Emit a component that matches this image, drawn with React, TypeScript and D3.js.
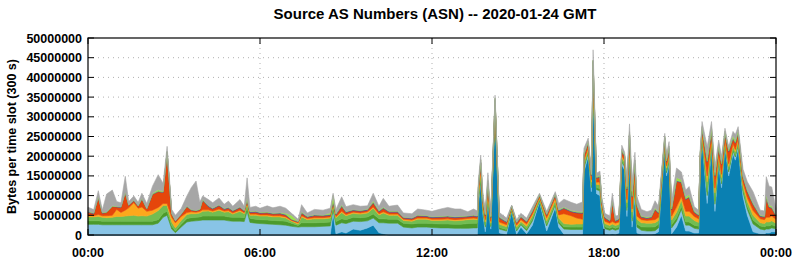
import React from 'react';
import * as d3 from 'd3';

// slot time in hours since 00:00 GMT
const hours = [
  0, 0.2, 0.36, 0.5, 0.65, 0.85, 1.0, 1.15, 1.3, 1.42, 1.6, 1.75, 1.88, 2.05, 2.25, 2.45, 2.62, 2.76, 2.92, 3.05,
  3.25, 3.45, 3.6, 3.77, 3.9, 4.0, 4.2, 4.35, 4.57, 4.75, 4.9, 5.05, 5.3, 5.45, 5.55, 5.65, 5.85, 6.0, 6.25, 6.45,
  6.7, 6.9, 7.1, 7.33, 7.45, 7.65, 7.9, 8.2, 8.45, 8.55, 8.65, 8.85, 9.0, 9.25, 9.5, 9.75, 9.95, 10.15, 10.3, 10.5,
  10.8, 11.0, 11.3, 11.5, 11.8, 12.0, 12.3, 12.55, 12.8, 13.0, 13.25, 13.45, 13.58, 13.62, 13.7, 13.78, 13.86, 13.95, 14.05, 14.2,
  14.35, 14.6, 14.78, 14.95, 15.1, 15.3, 15.5, 15.75, 16.0, 16.3, 16.42, 16.6, 16.85, 17.05, 17.25, 17.3, 17.45, 17.56, 17.62, 17.74,
  17.86, 17.92, 18.03, 18.2, 18.29, 18.4, 18.52, 18.62, 18.72, 18.8, 18.89, 18.98, 19.08, 19.15, 19.3, 19.5, 19.65, 19.78, 19.9, 20.12,
  20.18, 20.27, 20.36, 20.53, 20.7, 20.85, 20.97, 21.15, 21.3, 21.36, 21.42, 21.6, 21.75, 21.87, 22.0, 22.1, 22.22, 22.35, 22.5, 22.58,
  22.68, 22.85, 23.0, 23.2, 23.45, 23.6, 23.66, 23.76, 23.85, 24.0,
];

// bytes per slot, in millions, one list per AS (bottom of the stack first)
const asTeal = [
  0, 0, 0, 0, 0, 0, 0, 0, 0, 0, 0, 0, 0, 0, 0, 0, 0, 0, 0, 0,
  0, 0, 0, 0, 0, 0, 0, 0, 0, 0, 0, 0, 0, 0, 0, 0, 0, 0, 0, 0,
  0, 0, 0, 0, 0, 0, 0, 0, 0, 5.6, 0.3, 0.8, 0.5, 1.5, 1.2, 1.8, 2.5, 0.6, 0.3, 0,
  0, 0, 0, 0, 0, 0, 0, 0, 0, 0, 0, 0, 0, 8, 13.5, 5, 0.8, 8.6, 1.5, 32,
  0.5, 0.2, 6, 0.2, 2, 0.3, 2.5, 8.4, 1, 7, 2, 0.2, 0.2, 0.2, 0.2, 16, 20, 11, 37.6, 10.5,
  10, 4.5, 0.3, 0.2, 0.3, 0.2, 0.5, 17.8, 16.5, 4.7, 20, 2, 10, 0.5, 0.2, 0.2, 0.2, 0.3, 0.8, 22,
  15, 18, 0.3, 2, 5, 1, 1, 0.5, 0.5, 18, 24.1, 8, 22.4, 6, 18, 12, 22.4, 15, 20.7, 19,
  22, 9.7, 5, 0.8, 0.3, 0.3, 0.5, 0.5, 0.8, 0.8,
];
const asLightBlue = [
  2.7, 2.7, 2.7, 2.6, 2.6, 2.6, 2.6, 2.6, 2.6, 2.6, 2.6, 2.6, 2.6, 2.6, 2.6, 3, 4.5, 5, 1.5, 0.6,
  2, 3.3, 3.5, 3.6, 3.7, 3.8, 3.8, 3.8, 3.8, 3.8, 3.6, 3.5, 3.5, 3.4, 6, 3.2, 3, 2.9, 2.8, 2.7,
  2.6, 2.5, 2.2, 2, 2.1, 2.1, 2.1, 2.2, 2.3, 0.8, 2.2, 2.3, 2.4, 2, 2.2, 1.8, 1.8, 2.5, 2.8, 3,
  3, 2, 1.8, 2, 2, 1.9, 1.8, 1.8, 1.7, 1.7, 1.7, 1.8, 1.8, 1, 0.6, 0.8, 1.2, 0.5, 0.6, 0.3,
  1, 0.8, 0.3, 0.8, 0.6, 0.8, 1, 0.3, 1.3, 0.6, 1, 1.3, 1.2, 1.2, 1.2, 1, 0.8, 1, 1, 1,
  1.2, 1.2, 1.3, 1, 1.2, 1, 1, 0.8, 0.8, 1.5, 1, 1.5, 2, 1.5, 1, 0.8, 0.8, 0.8, 1, 0.5,
  0.8, 0.8, 1.5, 1.5, 1.5, 1.5, 1.5, 1.2, 1, 0.6, 0.5, 2, 0.6, 1.8, 0.8, 1, 0.6, 1, 0.7, 0.8,
  0.8, 1.2, 1.5, 2, 1.2, 1, 1, 1, 1, 0.8,
];
const asDarkGreen = [
  0.9, 0.9, 0.9, 0.9, 0.9, 0.9, 0.9, 0.9, 0.9, 0.9, 0.9, 0.9, 0.9, 0.9, 0.9, 0.9, 1, 1, 0.8, 0.4,
  0.7, 0.9, 0.9, 0.9, 0.9, 1, 1, 1, 1, 1, 1, 1, 1, 1, 1, 1, 1, 1, 1, 1,
  1, 1, 0.8, 0.4, 1, 1, 1, 1, 1, 0.6, 0.9, 1, 1, 1, 1, 1, 1, 1, 1, 1,
  1, 1, 1, 1, 1, 1, 1, 1, 1, 1, 1.2, 1.2, 1.2, 0.5, 0.3, 0.3, 0.5, 0.3, 0.3, 0.2,
  0.4, 0.4, 0.2, 0.4, 0.3, 0.4, 0.5, 0.2, 0.5, 0.4, 0.5, 0.6, 0.6, 0.6, 0.6, 0.5, 0.4, 0.6, 0.6, 0.5,
  0.6, 0.6, 0.5, 0.5, 0.5, 0.5, 0.5, 0.3, 0.3, 0.8, 0.5, 0.8, 1, 0.8, 0.9, 1, 1, 1, 0.9, 0.3,
  0.4, 0.4, 0.8, 0.8, 0.8, 0.8, 0.8, 0.8, 0.7, 0.4, 0.3, 1, 0.4, 0.9, 0.4, 0.6, 0.4, 0.6, 0.4, 0.4,
  0.4, 0.6, 0.8, 1, 0.8, 0.8, 0.8, 0.8, 0.8, 0.6,
];
const asLightGreen = [
  1, 1, 1.1, 1, 0.9, 1, 1.2, 1.2, 1.3, 1.4, 1.5, 1.3, 1.4, 1.3, 1.8, 2.3, 2, 1.5, 1, 0.8,
  1, 1, 1, 0.9, 1, 1.2, 1.3, 1, 1.5, 1, 1.3, 0.8, 1.5, 1, 1, 0.8, 1, 0.9, 1, 0.9,
  1, 0.8, 0.5, 0.4, 1.5, 0.8, 1, 0.9, 1, 0.8, 1, 1.6, 1, 1, 0.9, 1, 1.5, 1, 1.5, 1,
  1, 0.7, 0.7, 1, 1, 0.8, 0.9, 1, 0.9, 1, 1, 1, 0.9, 0.8, 1.5, 0.8, 0.8, 1.2, 0.6, 0.5,
  0.8, 0.7, 0.3, 0.6, 0.5, 0.7, 0.8, 0.4, 0.8, 0.8, 0.8, 0.8, 0.7, 0.8, 0.8, 0.8, 0.6, 0.8, 1, 0.8,
  1, 0.8, 0.8, 0.7, 0.8, 0.7, 0.7, 0.8, 0.8, 1.2, 1, 1.5, 1.5, 1.2, 1, 1, 1, 1, 1, 0.6,
  0.8, 0.8, 1.2, 1.5, 1.5, 1.5, 1.5, 1.2, 1, 0.6, 0.6, 2.5, 0.8, 2, 0.8, 1, 0.7, 0.8, 0.8, 0.9,
  0.8, 1, 1.2, 1.2, 0.8, 0.8, 1, 1, 1, 0.8,
];
const asYellowOrange = [
  0.4, 0.3, 0.5, 0.4, 0.5, 0.5, 1.8, 1, 1.5, 2, 3.2, 2, 2.2, 1.2, 1, 0.8, 0.5, 0.5, 1.2, 1.3,
  1, 0.5, 0.5, 0.4, 0.4, 0.4, 0.3, 0.3, 0.3, 0.3, 0.3, 0.3, 0.3, 0.3, 0.3, 0.3, 0.3, 0.3, 0.3, 0.3,
  0.3, 0.3, 0.2, 0.3, 0.3, 0.3, 0.3, 0.3, 0.3, 0.2, 0.3, 0.3, 0.3, 0.3, 0.3, 0.3, 0.3, 0.3, 0.3, 0.3,
  0.3, 0.3, 0.3, 0.3, 0.3, 0.3, 0.3, 0.3, 0.3, 0.3, 0.3, 0.3, 0.3, 0.8, 0.8, 0.5, 0.6, 0.6, 0.5, 0.3,
  0.6, 0.5, 0.2, 0.5, 0.5, 0.6, 0.5, 0.3, 0.8, 0.7, 0.8, 2.5, 2.2, 1.5, 1.2, 0.6, 0.5, 0.6, 0.6, 0.6,
  0.7, 0.6, 0.6, 0.6, 0.6, 0.6, 0.6, 0.5, 0.5, 0.8, 0.5, 0.8, 1, 0.8, 0.8, 0.7, 0.8, 0.8, 0.8, 0.4,
  0.6, 0.6, 1, 1.3, 1, 1.2, 1.2, 1, 0.9, 0.5, 0.5, 1.5, 0.6, 1.2, 0.6, 0.8, 0.5, 0.7, 0.6, 0.6,
  0.6, 0.8, 1, 1.2, 1, 1, 1.2, 1.2, 1.2, 1,
];
const asRed = [
  0.8, 0.5, 4.3, 0.6, 0.8, 2.2, 0.6, 1.3, 4.4, 0.6, 0.5, 0.5, 2, 0.6, 4, 4, 2.8, 13, 0.8, 0.4,
  0.5, 1.5, 0.4, 0.3, 0.4, 2.4, 0.8, 0.5, 0.8, 0.4, 0.6, 0.4, 0.6, 0.3, 0.5, 0.4, 0.5, 0.4, 0.5, 0.4,
  0.5, 0.4, 0.2, 0.2, 0.6, 0.3, 0.5, 0.4, 0.4, 0.3, 0.4, 1.2, 0.5, 0.4, 0.4, 0.4, 1, 0.5, 0.8, 0.5,
  0.5, 0.3, 0.3, 0.5, 0.4, 0.4, 0.5, 0.5, 0.5, 0.5, 0.4, 0.5, 0.4, 1, 1.5, 1, 1, 1.8, 0.8, 1,
  1, 0.6, 0.2, 0.5, 0.6, 0.5, 0.6, 0.4, 0.6, 0.6, 1, 1.3, 1, 1.3, 1.5, 1.2, 1, 1, 3.2, 1,
  1.2, 0.8, 0.8, 0.5, 5, 0.5, 0.6, 1, 1, 2.5, 2.5, 3, 2.5, 2.5, 0.6, 0.5, 0.6, 2.5, 1, 0.7,
  1, 1.2, 1.6, 6.5, 3.5, 3, 3.5, 1, 0.8, 0.6, 0.8, 3.5, 1.5, 3, 1.5, 2.5, 1, 3, 1.2, 1.6,
  1.2, 1.2, 1.5, 1.5, 0.6, 0.6, 5, 2.5, 2, 0.8,
];
const asPurple = [
  0.15, 0.15, 0.15, 0.15, 0.1, 0.1, 0.1, 0.1, 0.1, 0.1, 0.1, 0.1, 0.1, 0.1, 0.1, 0.1, 0.1, 0.1, 0.1, 0.1,
  0.1, 0.1, 0.1, 0.1, 0.1, 0.1, 0.2, 0.2, 0.2, 0.2, 0.2, 0.2, 0.2, 0.2, 0.2, 0.2, 0.2, 0.2, 0.2, 0.2,
  0.2, 0.2, 0.1, 0.1, 0.2, 0.2, 0.2, 0.2, 0.2, 0.2, 0.2, 0.2, 0.2, 0.2, 0.2, 0.2, 0.2, 0.2, 0.2, 0.2,
  0.2, 0.2, 0.2, 0.2, 0.2, 0.2, 0.2, 0.2, 0.2, 0.2, 0.2, 0.2, 0.2, 0.2, 0.2, 0.2, 0.2, 0.2, 0.2, 0.1,
  0.2, 0.2, 0.1, 0.2, 0.2, 0.2, 0.2, 0.1, 0.2, 0.2, 0.2, 0.2, 0.2, 0.2, 0.2, 0.2, 0.2, 0.2, 0.2, 0.2,
  0.2, 0.2, 0.2, 0.2, 0.2, 0.2, 0.2, 0.2, 0.2, 0.2, 0.2, 0.2, 0.2, 0.2, 0.2, 0.2, 0.2, 0.2, 0.2, 0.2,
  0.2, 0.2, 0.2, 0.2, 0.2, 0.2, 0.2, 0.2, 0.2, 0.2, 0.2, 0.2, 0.2, 0.2, 0.2, 0.2, 0.2, 0.2, 0.2, 0.2,
  0.2, 0.2, 0.2, 0.2, 0.2, 0.2, 0.2, 0.2, 0.2, 0.2,
];
const asLime = [
  0.1, 0.1, 0.1, 0.1, 0.1, 0.1, 0.1, 0.1, 0.1, 0.1, 0.1, 0.1, 0.1, 0.1, 0.2, 0.4, 0.2, 0.1, 0.1, 0.1,
  0.1, 0.1, 0.1, 0.1, 0.1, 0.2, 0.1, 0.1, 0.1, 0.1, 0.1, 0.1, 0.1, 0.1, 0.3, 0.1, 0.1, 0.1, 0.1, 0.1,
  0.1, 0.3, 1, 0.1, 0.2, 0.1, 0.1, 0.1, 0.4, 1.5, 0.2, 0.3, 0.1, 0.1, 0.1, 0.1, 0.4, 0.2, 0.2, 0.1,
  0.1, 0.1, 0.1, 0.1, 0.1, 0.1, 0.1, 0.1, 0.1, 0.1, 0.1, 0.1, 0.1, 0.4, 0.7, 0.3, 0.3, 0.6, 0.3, 0.4,
  0.2, 0.1, 0.1, 0.1, 0.1, 0.1, 0.2, 0.2, 0.2, 0.2, 0.2, 0.2, 0.2, 0.2, 0.2, 0.4, 0.3, 0.3, 0.2, 0.2,
  0.3, 0.2, 0.1, 0.1, 0.2, 0.1, 0.1, 0.3, 0.3, 0.6, 0.5, 1.3, 0.8, 0.5, 0.2, 0.2, 0.2, 0.3, 0.3, 0.4,
  0.5, 0.5, 0.6, 0.8, 0.5, 0.5, 0.6, 0.3, 0.2, 0.3, 0.5, 1, 0.8, 0.8, 0.6, 0.6, 0.5, 0.5, 0.6, 0.6,
  0.6, 0.3, 0.3, 0.3, 0.2, 0.2, 0.5, 0.4, 0.4, 0.2,
];
const asGray = [
  1, 0.8, 1.5, 0.6, 4.5, 4, 1.2, 1, 4, 0.8, 1, 0.8, 1.3, 1.2, 1.8, 3.8, 2, 1.3, 1, 1.3,
  1.3, 2.5, 5.5, 7.4, 1.8, 0.8, 1.5, 1.3, 1.7, 1, 1.5, 1, 1.8, 1, 5.2, 1, 1.2, 1, 1.5, 1.3,
  1.6, 1.3, 0.5, 0.5, 1.8, 0.8, 1.3, 1.2, 1.2, 0.6, 1, 2, 1.2, 1.2, 1, 0.8, 1.9, 1, 2.2, 1.2,
  1.5, 1, 1, 1.5, 1.3, 1.3, 1.8, 2.1, 1.9, 1.8, 1, 1.5, 1.2, 1.3, 1.2, 1, 1.5, 2, 1, 0.7,
  1, 0.8, 0.2, 0.6, 0.7, 0.7, 0.8, 0.3, 0.6, 0.5, 1.5, 2, 2, 1.8, 2.5, 1.3, 0.8, 1, 2.6, 0.9,
  1, 0.8, 0.9, 1, 1.8, 1, 0.8, 1.1, 0.6, 2.7, 2, 2.8, 2, 1.7, 1.6, 1.3, 1.5, 1.8, 1.3, 0.7,
  1.2, 1.2, 1.7, 2.4, 2, 1.7, 2, 1, 1, 1, 1.3, 2.7, 1.5, 1.5, 1.2, 1.3, 0.8, 0.6, 1.1, 1.4,
  0.9, 1.7, 2, 2.8, 1.2, 1.2, 4.6, 4.8, 4.8, 1.5,
];

const layers = [
  { key: 'teal', values: asTeal, color: '#0a80b2' },
  { key: 'lightBlue', values: asLightBlue, color: '#88c4e6' },
  { key: 'darkGreen', values: asDarkGreen, color: '#4c9a2c' },
  { key: 'lightGreen', values: asLightGreen, color: '#72bd52' },
  { key: 'yellowOrange', values: asYellowOrange, color: '#fca81c' },
  { key: 'red', values: asRed, color: '#e5460b' },
  { key: 'purple', values: asPurple, color: '#4a4aa0' },
  { key: 'lime', values: asLime, color: '#9ae14a' },
  { key: 'gray', values: asGray, color: '#a6a6a6' },
];

const yTicks = d3.range(0, 50000001, 5000000);
const xTicks = [0, 6, 12, 18, 24];
const xTickLabels = ['00:00', '06:00', '12:00', '18:00', '00:00'];

const W = 795, H = 260;
const left = 88, right = 776, top = 38, bottom = 235;
const font = '"Liberation Sans", Arial, sans-serif';

const App = () => {
  const x = d3.scaleLinear().domain([0, 24]).range([left, right]);
  const y = d3.scaleLinear().domain([0, 50000000]).range([bottom, top]);

  const rows = hours.map((h, i) => {
    const row: any = { h };
    layers.forEach(l => { row[l.key] = l.values[i] * 1e6; });
    return row;
  });
  const series = d3.stack().keys(layers.map(l => l.key))(rows);
  const area = d3.area<any>()
    .x(d => x(d.data.h))
    .y0(d => y(d[0]))
    .y1(d => y(d[1]));

  return (
    <div style={{ position: 'absolute', left: 0, top: 0 }}>
      <svg width={W} height={H} style={{ display: 'block', background: '#fff' }}>
        <text x={435} y={19} textAnchor="middle" fontFamily={font} fontWeight="bold" fontSize={15}>
          Source AS Numbers (ASN) -- 2020-01-24 GMT
        </text>

        {/* grid */}
        {yTicks.slice(1, -1).map(t => (
          <line key={'gy' + t} x1={left} x2={right} y1={y(t)} y2={y(t)}
            stroke="#b0b0b0" strokeWidth={1} strokeDasharray="1,4" />
        ))}
        {xTicks.slice(1, -1).map(t => (
          <line key={'gx' + t} x1={x(t)} x2={x(t)} y1={top} y2={bottom}
            stroke="#b0b0b0" strokeWidth={1} strokeDasharray="1,4" />
        ))}

        {series.map((s, i) => (
          <path key={s.key} d={area(s as any) || ''} fill={layers[i].color}
            stroke={layers[i].color} strokeWidth={0.6} />
        ))}

        {/* ticks */}
        {yTicks.map(t => (
          <g key={'ty' + t}>
            <line x1={left} x2={left + 6} y1={y(t)} y2={y(t)} stroke="#000" />
            <line x1={right - 6} x2={right} y1={y(t)} y2={y(t)} stroke="#000" />
            <text x={left - 6} y={y(t) + 4.5} textAnchor="end" fontFamily={font} fontWeight="bold" fontSize={12.5}>
              {t}
            </text>
          </g>
        ))}
        {xTicks.map((t, i) => (
          <g key={'tx' + i}>
            <line x1={x(t)} x2={x(t)} y1={top} y2={top + 6} stroke="#000" />
            <line x1={x(t)} x2={x(t)} y1={bottom} y2={bottom - 6} stroke="#000" />
            <text x={x(t)} y={257} textAnchor="middle" fontFamily={font} fontWeight="bold" fontSize={12.5}>
              {xTickLabels[i]}
            </text>
          </g>
        ))}

        <rect x={left} y={top} width={right - left} height={bottom - top} fill="none" stroke="#000" strokeWidth={1.2} />

        <text transform={`translate(16,${(top + bottom) / 2}) rotate(-90)`} textAnchor="middle"
          fontFamily={font} fontWeight="bold" fontSize={12.5}>
          Bytes per time slot (300 s)
        </text>
      </svg>
    </div>
  );
};

export default App;
